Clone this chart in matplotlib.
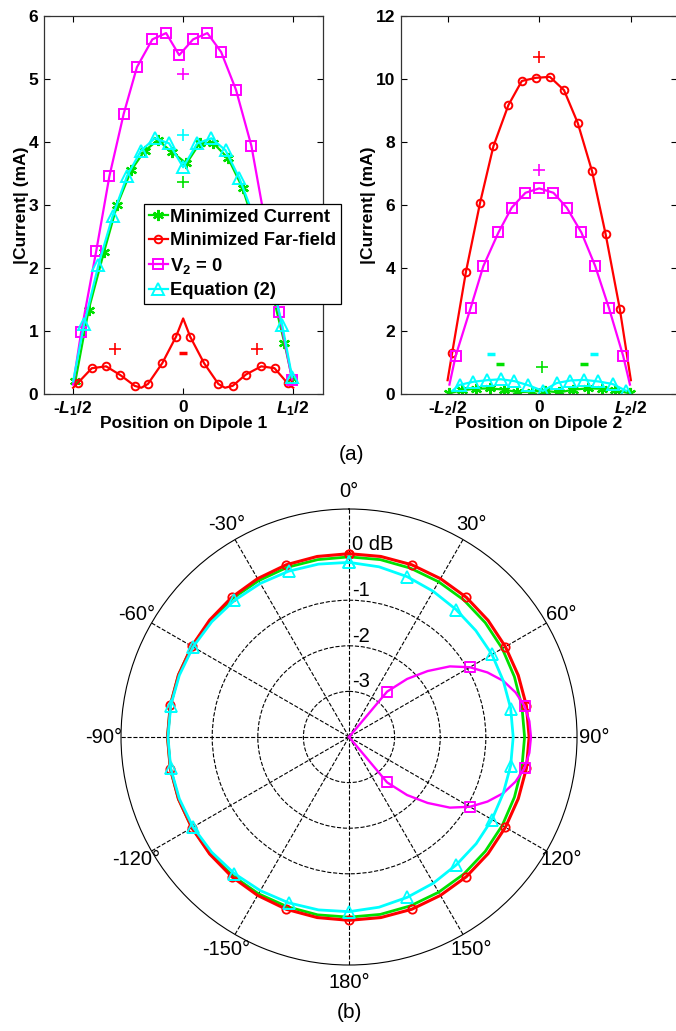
import numpy as np
import matplotlib
matplotlib.use("Agg")
import matplotlib.pyplot as plt

plt.rcParams['font.family'] = ['Liberation Sans', 'DejaVu Sans']
plt.rcParams['font.weight'] = 'bold'
plt.rcParams['axes.labelweight'] = 'bold'
plt.rcParams['mathtext.fontset'] = 'custom'
plt.rcParams['mathtext.rm'] = 'Liberation Sans:bold'
plt.rcParams['mathtext.it'] = 'Liberation Sans:bold:italic'
plt.rcParams['mathtext.bf'] = 'Liberation Sans:bold'

GREEN, RED, MAGENTA, CYAN = '#00e000', '#ff0000', '#ff00ff', '#00ffff'
labels = ["Minimized Current", "Minimized Far-field", r"V$_2$ = 0", "Equation (2)"]

# ---- dipole 1 currents (position normalised to L1/2) ----
d1_green_x = [-0.98, -0.86, -0.72, -0.6, -0.47, -0.35, -0.23, -0.1, 0.03, 0.15, 0.27, 0.41, 0.54, 0.66, 0.79, 0.92, 0.99]
d1_green_y = [0.2, 1.33, 2.25, 3.0, 3.56, 3.86, 4.03, 3.84, 3.66, 3.98, 3.99, 3.74, 3.27, 2.6, 1.75, 0.81, 0.25]
d1_red_x = [-1.0, -0.96, -0.83, -0.7, -0.57, -0.44, -0.38, -0.32, -0.19, -0.065, 0.0, 0.064, 0.19, 0.32, 0.38, 0.45, 0.57, 0.71, 0.83, 0.95, 1.0]
d1_red_y = [0.1, 0.17, 0.41, 0.44, 0.3, 0.13, 0.1, 0.16, 0.49, 0.91, 1.2, 0.91, 0.49, 0.16, 0.1, 0.13, 0.31, 0.44, 0.41, 0.17, 0.1]
d1_red_mk = [1, 2, 3, 4, 5, 7, 8, 9, 11, 12, 13, 15, 16, 17, 18, 19]
d1_mag_x = [-1.0, -0.927, -0.79, -0.67, -0.54, -0.42, -0.28, -0.155, -0.036, 0.09, 0.22, 0.345, 0.48, 0.62, 0.75, 0.87, 0.99]
d1_mag_y = [0.15, 0.98, 2.27, 3.46, 4.45, 5.19, 5.63, 5.73, 5.38, 5.63, 5.73, 5.43, 4.83, 3.94, 2.68, 1.3, 0.23]
d1_cyan_x = [-1.0, -0.9, -0.77, -0.64, -0.51, -0.385, -0.257, -0.128, 0.0, 0.128, 0.257, 0.385, 0.51, 0.64, 0.77, 0.9, 0.99]
d1_cyan_y = [0.2, 1.11, 2.05, 2.83, 3.46, 3.86, 4.06, 3.98, 3.6, 3.98, 4.06, 3.87, 3.43, 2.83, 2.05, 1.1, 0.27]
# phase signs on dipole 1
d1_plus = [(-0.62, 0.71, RED), (0.67, 0.71, RED), (0.0, 5.08, MAGENTA), (0.0, 4.12, CYAN), (0.0, 3.37, GREEN)]
d1_minus = [(0.0, 0.65, RED)]

# ---- dipole 2 currents ----
d2_green_x = [-0.99, -0.845, -0.69, -0.54, -0.38, -0.24, -0.08, 0.065, 0.22, 0.37, 0.53, 0.68, 0.83, 0.99]
d2_green_y = [0.02, 0.12, 0.17, 0.18, 0.14, 0.06, 0.08, 0.1, 0.05, 0.14, 0.18, 0.17, 0.13, 0.02]
d2_red_x = [-1.0, -0.95, -0.8, -0.645, -0.5, -0.337, -0.19, -0.036, 0.116, 0.27, 0.42, 0.576, 0.725, 0.88, 1.0]
d2_red_y = [0.44, 1.31, 3.88, 6.08, 7.87, 9.17, 9.94, 10.04, 10.07, 9.65, 8.61, 7.08, 5.07, 2.69, 0.44]
d2_mag_x = [-0.98, -0.913, -0.75, -0.61, -0.445, -0.3, -0.15, 0.0, 0.155, 0.3, 0.46, 0.61, 0.76, 0.917, 0.99]
d2_mag_y = [0.3, 1.2, 2.72, 4.06, 5.13, 5.92, 6.39, 6.53, 6.39, 5.92, 5.13, 4.07, 2.74, 1.2, 0.3]
d2_cyan_x = [-0.95, -0.87, -0.72, -0.57, -0.42, -0.27, -0.12, 0.04, 0.19, 0.34, 0.49, 0.645, 0.8, 0.95]
d2_cyan_y = [0.1, 0.29, 0.39, 0.44, 0.47, 0.41, 0.28, 0.1, 0.35, 0.43, 0.45, 0.4, 0.32, 0.1]
d2_plus = [(0.0, 10.7, RED), (0.0, 7.1, MAGENTA), (0.03, 0.85, GREEN)]
d2_minus = [(-0.53, 1.26, CYAN), (0.6, 1.26, CYAN), (-0.43, 0.94, GREEN), (0.49, 0.94, GREEN)]

# ---- far-field patterns (dB), angle clockwise from 0 deg ----
pat_deg = np.arange(0, 361, 10)
pat_green = [-0.05, -0.05, -0.06, -0.07, -0.08, -0.1, -0.12, -0.14, -0.15, -0.15, -0.15, -0.14, -0.12, -0.1,
             -0.08, -0.07, -0.06, -0.05, -0.05, -0.04, -0.04, -0.03, -0.03, -0.02, -0.02, -0.02, -0.02, -0.02,
             -0.02, -0.02, -0.02, -0.03, -0.03, -0.04, -0.04, -0.05, -0.05]
pat_red = [0.02, 0.02, 0.02, 0.01, 0.0, -0.02, -0.04, -0.05, -0.05, -0.05, -0.05, -0.05, -0.04, -0.02,
           0.0, 0.01, 0.02, 0.02, 0.02, 0.02, 0.02, 0.01, 0.0, -0.01, -0.02, -0.02, -0.02, -0.02,
           -0.02, -0.02, -0.02, -0.01, 0.0, 0.01, 0.02, 0.02, 0.02]
pat_cyan = [-0.17, -0.21, -0.26, -0.31, -0.35, -0.37, -0.38, -0.4, -0.4, -0.4, -0.4, -0.4, -0.38, -0.36,
            -0.34, -0.3, -0.26, -0.21, -0.17, -0.15, -0.13, -0.11, -0.09, -0.07, -0.05, -0.04, -0.03, -0.03,
            -0.03, -0.04, -0.05, -0.07, -0.09, -0.11, -0.13, -0.15, -0.17]
mag_deg = [37, 40, 45, 50, 55, 60, 65, 70, 75, 80, 85, 90, 95, 100, 105, 110, 115, 120, 125, 130, 135, 140, 143]
pat_mag = [-4.0, -2.7, -2.2, -1.75, -1.3, -0.94, -0.65, -0.4, -0.22, -0.09, -0.03, -0.01, -0.03, -0.09,
           -0.22, -0.4, -0.65, -0.94, -1.3, -1.75, -2.2, -2.7, -4.0]
mag_mk = [1, 5, 9, 13, 17, 21]
ring_db = [-3, -2, -1]
ang_ticks = np.arange(0, 360, 30)
ang_labels = ['0°', '30°', '60°', '90°', '120°', '150°', '180°', '-150°', '-120°', '-90°', '-60°', '-30°']

FS = 12.5
fig = plt.figure(figsize=(6.76, 10.31), dpi=100)


def style_cart(ax):
    ax.tick_params(direction='in', length=4, width=0.8, top=True, right=True, labelsize=FS, pad=4)
    for s in ax.spines.values():
        s.set_linewidth(0.9)
        s.set_color('#333333')


def plot_sign(ax, plus, minus):
    for x, y, c in plus:
        ax.plot(x, y, marker='+', ms=8, mew=1.2, color=c, ls='none')
    for x, y, c in minus:
        ax.plot(x, y, marker='_', ms=6, mew=2.5, color=c, ls='none')


# left panel
ax1 = fig.add_axes([0.065, 0.6178, 0.4127, 0.3666])
ax1.plot(d1_green_x, d1_green_y, color=GREEN, lw=1.6, marker=(6, 2, 0), ms=8, mew=1.6, label=labels[0])
ax1.plot(d1_red_x, d1_red_y, color=RED, lw=1.6, marker='o', ms=5.5, mfc='none', mew=1.4,
         markevery=d1_red_mk, label=labels[1])
ax1.plot(d1_mag_x, d1_mag_y, color=MAGENTA, lw=1.6, marker='s', ms=7, mfc='none', mew=1.4,
         markevery=list(range(1, len(d1_mag_x))), label=labels[2])
ax1.plot(d1_cyan_x, d1_cyan_y, color=CYAN, lw=1.6, marker='^', ms=8, mfc='none', mew=1.4,
         markevery=list(range(1, len(d1_cyan_x))), label=labels[3])
plot_sign(ax1, d1_plus, d1_minus)
ax1.set_xlim(-1.265, 1.27)
ax1.set_ylim(0, 6)
ax1.set_xticks([-1, 0, 1])
ax1.set_xticklabels([r'-$L_1$/2', '0', r'$L_1$/2'])
ax1.set_yticks(range(0, 7))
ax1.set_xlabel('Position on Dipole 1', fontsize=FS, labelpad=-2)
ax1.set_ylabel('|Current| (mA)', fontsize=FS, labelpad=0)
style_cart(ax1)
leg = ax1.legend(loc='upper left', bbox_to_anchor=(144 / 676, 1 - 204 / 1031), bbox_transform=fig.transFigure,
                 fontsize=13.2, numpoints=1, handlelength=1.05, handletextpad=0.12, labelspacing=0.36,
                 borderpad=0.25, borderaxespad=0, fancybox=False, framealpha=1, edgecolor='black')
leg.get_frame().set_linewidth(0.9)

# right panel
ax2 = fig.add_axes([0.593, 0.6178, 0.408, 0.3666])
ax2.plot(d2_green_x, d2_green_y, color=GREEN, lw=1.6, marker=(6, 2, 0), ms=8, mew=1.6)
ax2.plot(d2_red_x, d2_red_y, color=RED, lw=1.6, marker='o', ms=5.5, mfc='none', mew=1.4,
         markevery=list(range(1, len(d2_red_x) - 1)))
ax2.plot(d2_mag_x, d2_mag_y, color=MAGENTA, lw=1.6, marker='s', ms=7, mfc='none', mew=1.4,
         markevery=list(range(1, len(d2_mag_x) - 1)))
ax2.plot(d2_cyan_x, d2_cyan_y, color=CYAN, lw=1.6, marker='^', ms=8, mfc='none', mew=1.4,
         markevery=list(range(1, len(d2_cyan_x))))
plot_sign(ax2, d2_plus, d2_minus)
ax2.set_xlim(-1.51, 1.5)
ax2.set_ylim(0, 12)
ax2.set_xticks([-1, 0, 1])
ax2.set_xticklabels([r'-$L_2$/2', '0', r'$L_2$/2'])
ax2.set_yticks(range(0, 13, 2))
ax2.set_xlabel('Position on Dipole 2', fontsize=FS, labelpad=-2)
ax2.set_ylabel('|Current| (mA)', fontsize=FS, labelpad=0)
style_cart(ax2)

fig.text(0.52, 1 - 455 / 1031, '(a)', ha='center', va='center', fontsize=15, fontweight='normal')
fig.text(0.517, 1 - 1012 / 1031, '(b)', ha='center', va='center', fontsize=15, fontweight='normal')

# polar panel
axp = fig.add_axes([0.179, 0.064, 0.6746, 0.4423], projection='polar')
axp.set_theta_zero_location('N')
axp.set_theta_direction(-1)
th = np.deg2rad(pat_deg)
axp.plot(th, np.array(pat_green) + 4, color=GREEN, lw=2)
axp.plot(th, np.array(pat_red) + 4, color=RED, lw=2.2, marker='o', ms=6, mfc='none', mew=1.3, markevery=2)
axp.plot(np.deg2rad(mag_deg), np.array(pat_mag) + 4, color=MAGENTA, lw=1.7, marker='s', ms=7, mfc='none',
         mew=1.3, markevery=mag_mk)
axp.plot(th, np.array(pat_cyan) + 4, color=CYAN, lw=2, marker='^', ms=8, mfc='none', mew=1.3, markevery=2)
axp.set_rlim(0, 5)
axp.set_rgrids(np.array(ring_db) + 4, labels=[])
axp.set_thetagrids(ang_ticks, labels=ang_labels)
axp.tick_params(axis='x', labelsize=14.5, pad=2)
for t in axp.get_xticklabels():
    t.set_fontweight('normal')
axp.grid(True, ls='--', color='black', lw=0.8)
axp.spines['polar'].set_linewidth(0.8)
for db, txt in zip(ring_db + [0], ['-3', '-2', '-1', '0 dB']):
    axp.annotate(txt, xy=(0, db + 4), xytext=(2, 7), textcoords='offset points', ha='left', va='center',
                 fontsize=14.5, fontweight='normal')

fig.savefig('out.png', dpi=100)
